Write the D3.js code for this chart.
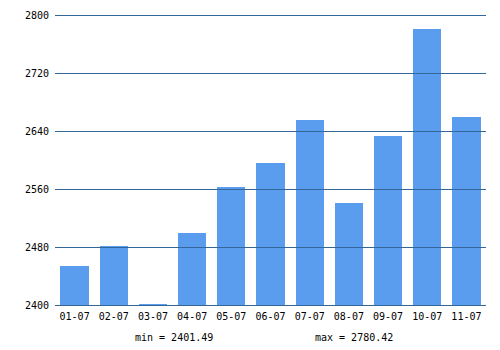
<!DOCTYPE html>
<html><head><meta charset="utf-8">
<script src="https://cdn.jsdelivr.net/npm/d3@7"></script>
<style>body{margin:0;background:#fff}svg{display:block}</style>
</head><body>
<svg id="c" width="500" height="350"></svg>
<script>
const categories = ["01-07","02-07","03-07","04-07","05-07","06-07","07-07","08-07","09-07","10-07","11-07"];
const values = [2453.8, 2481.4, 2401.49, 2499.3, 2562.8, 2595.9, 2655.2, 2540.7, 2633.1, 2780.42, 2659.3];
const yTicks = [2400, 2480, 2560, 2640, 2720, 2800];
const minLabel = "min = 2401.49";
const maxLabel = "max = 2780.42";

(function(){
const svg = d3.select("#c");
const mLeft = 55, mRight = 486, mTop = 15, mBottom = 305;
const x = d3.scaleBand().domain(categories).range([mLeft, mRight]).paddingInner(0.28).paddingOuter(0.14);
const y = d3.scaleLinear().domain([2400, 2800]).range([mBottom, mTop]);
const font = "'DejaVu Sans Mono', monospace";

svg.append("g").selectAll("rect").data(values).join("rect")
  .attr("x", (d,i) => x(categories[i]))
  .attr("y", d => y(d))
  .attr("width", x.bandwidth())
  .attr("height", d => y(2400) - y(d))
  .attr("fill", "#5a9cee")
  .attr("shape-rendering", "crispEdges");

const ya = svg.append("g").attr("transform", `translate(${mLeft},0)`)
  .call(d3.axisLeft(y).tickValues(yTicks).tickFormat(d3.format("d")).tickSize(-(mRight-mLeft)).tickPadding(6));
ya.select(".domain").remove();
ya.selectAll("line").attr("stroke", "#336699").attr("stroke-width", 1).attr("shape-rendering", "crispEdges");
ya.selectAll("text").attr("font-family", font).attr("font-size", 10).attr("fill", "#000");

const xa = svg.append("g").attr("transform", `translate(0,${mBottom})`)
  .call(d3.axisBottom(x).tickSize(0).tickPadding(8));
xa.select(".domain").remove();
xa.selectAll("text").attr("font-family", font).attr("font-size", 10).attr("fill", "#000");

svg.append("text").attr("x", 135).attr("y", 341).attr("font-family", font).attr("font-size", 10).text(minLabel);
svg.append("text").attr("x", 315).attr("y", 341).attr("font-family", font).attr("font-size", 10).text(maxLabel);
})();
</script>
</body></html>
